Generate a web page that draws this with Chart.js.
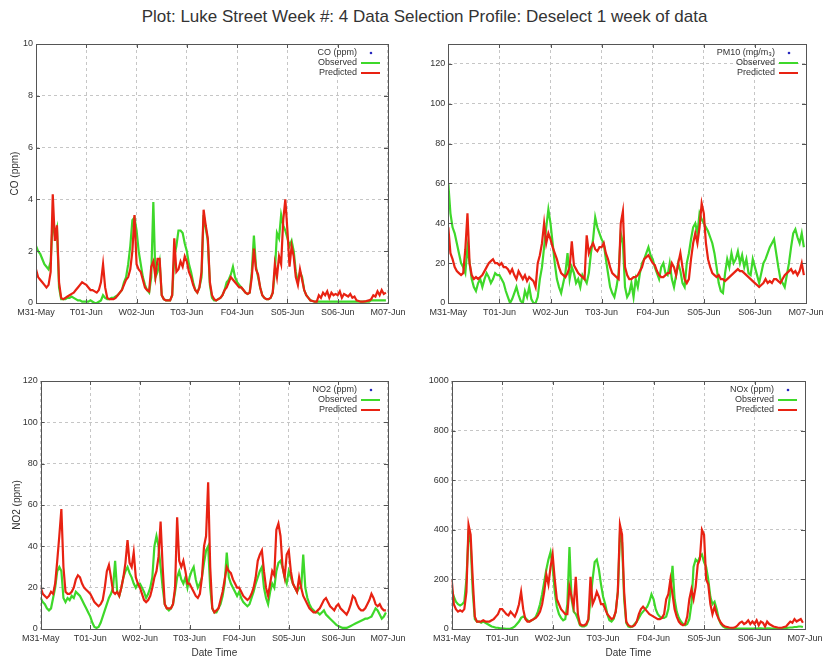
<!DOCTYPE html>
<html>
<head>
<meta charset="utf-8">
<script src="https://cdn.jsdelivr.net/npm/chart.js@4.4.1/dist/chart.umd.min.js"></script>
<style>
  body { margin: 0; width: 825px; height: 662px; overflow: hidden; background: #fff; position: relative;
         font-family: "Liberation Sans", Arial, sans-serif; }
  #title { position: absolute; top: 7px; left: 0; width: 849px; text-align: center; font-size: 17px; color: #333; }
  canvas { position: absolute; }
</style>
</head>
<body>
<div id="title">Plot: Luke Street Week #: 4 Data Selection Profile: Deselect 1 week of data</div>
<canvas id="co" width="410" height="300" style="left:0;top:30px"></canvas>
<canvas id="pm10" width="440" height="300" style="left:410px;top:30px"></canvas>
<canvas id="no2" width="410" height="297" style="left:0;top:365px"></canvas>
<canvas id="nox" width="440" height="297" style="left:410px;top:365px"></canvas>
<script>
// one tick per day, hourly values (one row per day)
const dayLabels = ['M31-May', 'T01-Jun', 'W02-Jun', 'T03-Jun', 'F04-Jun', 'S05-Jun', 'S06-Jun', 'M07-Jun'];

const coObserved = [
  2.2,2.0,1.9,1.7,1.5,1.4,1.3,1.6,3.2,2.6,2.9,0.6,0.15,0.15,0.15,0.2,0.2,0.25,0.2,0.15,0.1,0.1,0.05,0.05,
  0.05,0.05,0.1,0.05,0,0,0.05,0.1,0.3,0.2,0.15,0.15,0.2,0.2,0.25,0.3,0.4,0.5,0.8,1.0,1.5,2.2,3.2,3.3,
  2.8,2.0,1.5,1.0,0.7,0.5,0.4,1.0,3.9,1.0,1.2,1.6,0.3,0.15,0.1,0.1,0.1,0.3,1.8,2.2,2.8,2.8,2.7,2.3,
  2.0,1.5,1.2,0.8,0.5,0.4,0.6,1.0,3.4,2.9,2.4,0.7,0.2,0.1,0.1,0.15,0.2,0.3,0.5,0.8,0.9,1.1,1.4,1.0,
  0.8,0.7,0.6,0.5,0.4,0.35,0.4,1.2,2.6,1.4,1.0,0.6,0.3,0.2,0.15,0.15,0.2,0.4,1.2,2.7,2.5,3.4,3.0,2.8,
  2.5,2.2,2.4,2.0,1.2,0.8,1.2,1.0,0.5,0.3,0.2,0.1,0.08,0.05,0.05,0.05,0.05,0.05,0.05,0.05,0.05,0.05,0.05,0.05,
  0.05,0.05,0.05,0.05,0.05,0.05,0.05,0.05,0.05,0.05,0.05,0.05,0.05,0.05,0.05,0.05,0.1,0.1,0.1,0.1,0.1,0.1,0.1,0.1
];
const coPredicted = [
  1.3,1.0,0.9,0.8,0.7,0.6,0.7,1.2,4.2,2.4,3.0,0.8,0.2,0.15,0.2,0.25,0.3,0.35,0.4,0.5,0.6,0.7,0.8,0.75,
  0.7,0.6,0.5,0.5,0.45,0.4,0.5,0.8,1.5,0.6,0.2,0.15,0.15,0.15,0.2,0.3,0.4,0.5,0.7,0.9,1.0,1.3,2.0,3.4,
  1.5,1.3,1.2,0.9,0.6,0.5,0.45,1.4,1.6,1.0,1.7,1.7,0.3,0.15,0.1,0.1,0.1,0.3,2.5,1.2,1.3,1.6,1.4,1.8,
  1.6,1.2,1.0,0.7,0.5,0.4,0.6,1.2,3.6,3.0,2.5,0.8,0.3,0.15,0.1,0.15,0.2,0.3,0.5,0.6,0.8,1.0,0.9,0.8,
  0.7,0.6,0.6,0.5,0.4,0.35,0.4,1.0,2.1,1.3,1.1,0.6,0.3,0.2,0.15,0.15,0.2,0.4,1.5,1.0,1.8,1.5,3.2,4.0,
  2.8,1.4,2.2,1.8,1.0,0.7,1.3,0.9,0.5,0.3,0.2,0.1,0.08,0.05,0.05,0.3,0.2,0.4,0.3,0.45,0.2,0.4,0.3,0.35,
  0.3,0.45,0.2,0.35,0.3,0.25,0.35,0.2,0.25,0.1,0.08,0.05,0.05,0.06,0.08,0.1,0.15,0.3,0.25,0.45,0.3,0.5,0.35,0.4
];

const pm10Observed = [
  60,45,38,35,30,25,20,18,15,28,20,12,8,6,10,12,8,12,15,13,10,12,15,14,
  14,12,10,6,3,0,2,5,8,4,1,0,6,3,8,2,0,0,3,12,18,28,38,47,
  40,30,20,12,8,5,10,15,25,12,18,15,10,12,8,14,12,10,15,25,32,43,38,35,
  32,30,22,15,8,5,3,8,15,35,30,8,3,5,10,3,12,8,15,20,22,25,28,24,
  22,18,15,12,18,20,15,14,20,12,8,14,20,16,10,8,20,25,32,38,40,35,45,42,
  40,38,36,33,30,25,18,10,6,5,15,22,18,25,20,22,26,20,24,18,22,15,14,22,
  18,14,10,15,20,22,25,28,30,32,25,18,12,10,8,14,20,28,35,37,33,30,35,28
];
const pm10Predicted = [
  38,25,22,18,16,15,14,15,27,45,20,14,12,13,12,13,14,16,18,20,21,22,20,20,
  19,20,18,18,17,15,17,14,12,16,14,12,14,11,13,12,11,8,20,24,30,40,30,35,
  32,28,25,22,18,15,14,13,15,18,31,19,17,15,14,13,12,34,25,28,30,27,26,28,
  28,30,25,22,18,15,14,13,12,40,46,18,14,12,12,13,13,14,16,18,22,23,24,22,
  20,19,16,14,13,13,14,15,15,20,18,14,20,25,18,12,10,12,22,30,35,30,38,50,
  45,30,22,18,15,14,13,14,12,12,11,12,13,14,15,16,17,16,16,15,14,13,12,11,
  10,9,8,9,10,12,10,11,10,12,12,11,10,12,14,15,16,17,15,16,14,16,20,14
];

const no2Observed = [
  15,13,12,10,9,10,15,20,28,30,28,15,13,15,14,16,15,18,17,16,14,12,10,8,
  6,3,1,0.5,1,3,6,9,12,15,17,20,33,18,16,20,25,28,30,27,25,22,20,22,
  22,20,18,15,17,20,25,40,45,40,30,20,12,10,9,10,12,18,25,28,24,22,25,20,
  25,28,30,24,20,22,25,32,38,40,20,10,8,8,10,12,16,22,37,25,22,20,18,16,
  18,15,13,12,11,12,15,18,22,25,28,30,20,15,12,18,22,20,28,32,33,30,25,22,
  28,25,22,20,18,20,20,36,20,15,12,10,9,8,8,7,8,9,7,6,5,4,3,2,
  1.5,1,0.5,0.5,0.5,1,1.5,2,2.5,3,3.5,4,4.5,5,5,5.5,6,8,10,9,7,5,6,8
];
const no2Predicted = [
  20,17,16,15,16,18,17,22,33,45,58,30,18,17,17,18,20,24,26,25,22,20,19,18,
  17,15,13,12,11,12,14,20,28,31,25,18,17,18,16,20,25,32,43,32,30,37,25,22,
  20,17,14,13,14,16,20,25,28,35,52,30,12,10,10,10,12,20,54,33,30,33,28,22,
  22,20,18,16,15,17,25,40,45,71,30,10,8,9,10,14,18,24,30,28,27,24,22,20,
  20,18,16,15,14,15,17,20,25,33,36,38,28,20,16,22,28,26,48,51,45,30,25,36,
  38,28,22,20,18,25,20,16,14,12,10,9,8,8,9,10,12,14,15,13,11,10,9,11,
  12,10,9,8,7,9,12,16,15,12,10,9,9,10,12,14,17,15,12,11,12,10,9,9
];

const noxObserved = [
  160,130,110,100,95,100,110,200,380,350,150,40,30,30,25,30,25,20,15,10,8,5,5,3,
  3,2,1,1,2,5,10,20,30,45,50,45,35,30,35,40,50,70,100,140,190,240,280,310,
  250,150,90,60,45,35,40,100,330,120,70,60,40,15,10,10,15,35,120,200,270,280,240,180,
  130,100,60,35,30,40,70,150,380,350,120,25,10,8,10,20,30,45,60,70,80,90,110,140,
  120,80,60,50,45,45,50,80,150,255,120,70,45,30,20,15,20,40,100,250,280,270,290,300,
  270,250,200,130,100,110,80,40,20,10,5,4,3,2,2,2,2,2,2,2,2,2,2,2,
  2,2,3,3,2,2,3,3,2,2,2,2,3,3,3,4,5,6,6,8,8,10,10,8
];
const noxPredicted = [
  200,100,80,70,75,70,80,150,420,380,200,50,30,30,30,35,30,30,30,35,40,50,60,80,
  80,70,60,55,70,60,50,70,100,150,80,40,30,30,35,40,45,55,70,100,150,220,180,250,
  300,200,120,100,80,70,60,60,170,130,90,210,60,20,15,15,20,40,210,100,120,150,130,100,
  100,80,60,50,40,45,70,150,420,380,150,30,15,10,10,15,30,60,80,90,80,70,60,55,
  50,45,40,40,45,60,120,140,200,140,80,50,30,20,15,20,50,120,160,120,170,260,280,400,
  380,200,180,100,60,90,60,40,25,15,10,8,6,5,5,8,15,25,30,20,25,35,20,30,
  20,35,15,30,25,10,30,20,15,10,8,6,5,5,8,10,20,30,25,40,30,35,40,25
];

const GREEN = 'rgb(62,216,42)';
const RED = 'rgb(232,34,18)';
const INK = '#333';
const FONT = '"Liberation Sans", Arial, sans-serif';

function points(values) {
  return values.map((v, i) => ({x: i, y: v}));
}

// gnuplot-like frame: full border, inward ticks on every side, key in the top right corner
const frame = {
  id: 'frame',
  afterDatasetsDraw(chart) {
    const {ctx, chartArea: a, scales: {x, y}} = chart;
    ctx.save();
    ctx.strokeStyle = '#555';
    ctx.lineWidth = 1;
    ctx.beginPath();
    x.ticks.forEach(t => {
      const px = Math.round(x.getPixelForValue(t.value)) + 0.5;
      ctx.moveTo(px, a.bottom); ctx.lineTo(px, a.bottom - 4);
      ctx.moveTo(px, a.top); ctx.lineTo(px, a.top + 4);
    });
    y.ticks.forEach(t => {
      const py = Math.round(y.getPixelForValue(t.value)) + 0.5;
      ctx.moveTo(a.left, py); ctx.lineTo(a.left + 4, py);
      ctx.moveTo(a.right, py); ctx.lineTo(a.right - 4, py);
    });
    ctx.stroke();
    ctx.strokeRect(Math.round(a.left) + 0.5, Math.round(a.top) + 0.5,
                   Math.round(a.right) - Math.round(a.left), Math.round(a.bottom) - Math.round(a.top));

    ctx.font = '9px ' + FONT;
    ctx.textAlign = 'right';
    ctx.textBaseline = 'middle';
    chart.data.datasets.forEach((ds, i) => {
      const ty = a.top + 9 + i * 10;
      ctx.fillStyle = INK;
      ctx.fillText(ds.label, a.right - 31, ty);
      if (ds.showLine === false) {
        ctx.fillStyle = ds.backgroundColor;
        ctx.beginPath();
        ctx.arc(a.right - 17, ty, 1.3, 0, Math.PI * 2);
        ctx.fill();
      } else {
        ctx.strokeStyle = ds.borderColor;
        ctx.lineWidth = 2;
        ctx.beginPath();
        ctx.moveTo(a.right - 27, ty);
        ctx.lineTo(a.right - 8, ty);
        ctx.stroke();
      }
    });
    ctx.restore();
  }
};

function makePanel(id, p) {
  new Chart(document.getElementById(id), {
    type: 'line',
    data: {
      datasets: [
        {label: p.species, data: [], showLine: false, pointRadius: 1.5,
         backgroundColor: 'rgb(40,40,190)', borderColor: 'rgb(40,40,190)'},
        {label: 'Observed', data: points(p.observed), borderColor: GREEN, borderWidth: 2.2,
         pointRadius: 0, tension: 0, order: 2},
        {label: 'Predicted', data: points(p.predicted), borderColor: RED, borderWidth: 2.2,
         pointRadius: 0, tension: 0, order: 1}
      ]
    },
    options: {
      responsive: false,
      animation: false,
      events: [],
      layout: {padding: p.padding},
      plugins: {legend: {display: false}, tooltip: {enabled: false}},
      scales: {
        x: {
          type: 'linear', min: 0, max: 168,
          afterFit: s => { s.height = p.xHeight; },
          grid: {color: '#c6c6c6', drawTicks: false},
          border: {display: false, dash: [3, 3]},
          ticks: {stepSize: 24, autoSkip: false, maxRotation: 0, padding: 4.5, color: INK,
                  font: {size: 9, family: FONT}, callback: v => dayLabels[v / 24]},
          title: {display: p.xTitle, text: 'Date Time', color: INK, font: {size: 10, family: FONT},
                  padding: {top: 0, bottom: 2.5}}
        },
        y: {
          min: 0, max: p.yMax,
          afterFit: s => { s.width = p.yWidth; },
          grid: {color: '#c6c6c6', drawTicks: false},
          border: {display: false, dash: [3, 3]},
          ticks: {stepSize: p.yStep, includeBounds: false, padding: 3, color: INK,
                  font: {size: 9, family: FONT}, callback: v => String(v)},
          title: {display: !!p.yTitle, text: p.yTitle, color: INK, font: {size: 10, family: FONT},
                  padding: {top: p.yTitlePad, bottom: 0}}
        }
      }
    },
    plugins: [frame]
  });
}

makePanel('co', {
  species: 'CO (ppm)', observed: coObserved, predicted: coPredicted,
  yMax: 10, yStep: 2, yTitle: 'CO (ppm)', yTitlePad: 9, xTitle: false,
  padding: {left: 0, top: 14, right: 21.7, bottom: 0}, yWidth: 36, xHeight: 27
});
makePanel('pm10', {
  species: 'PM10 (mg/m\u2083)', observed: pm10Observed, predicted: pm10Predicted,
  yMax: 130, yStep: 20, yTitle: '', yTitlePad: 0, xTitle: false,
  padding: {left: 0, top: 14, right: 44, bottom: 0}, yWidth: 38.3, xHeight: 27
});
makePanel('no2', {
  species: 'NO2 (ppm)', observed: no2Observed, predicted: no2Predicted,
  yMax: 120, yStep: 20, yTitle: 'NO2 (ppm)', yTitlePad: 11, xTitle: true,
  padding: {left: 0, top: 16, right: 21.7, bottom: 0}, yWidth: 40.7, xHeight: 33
});
makePanel('nox', {
  species: 'NOx (ppm)', observed: noxObserved, predicted: noxPredicted,
  yMax: 1000, yStep: 200, yTitle: '', yTitlePad: 0, xTitle: true,
  padding: {left: 0, top: 16, right: 45, bottom: 0}, yWidth: 41.7, xHeight: 33
});
</script>
</body>
</html>
